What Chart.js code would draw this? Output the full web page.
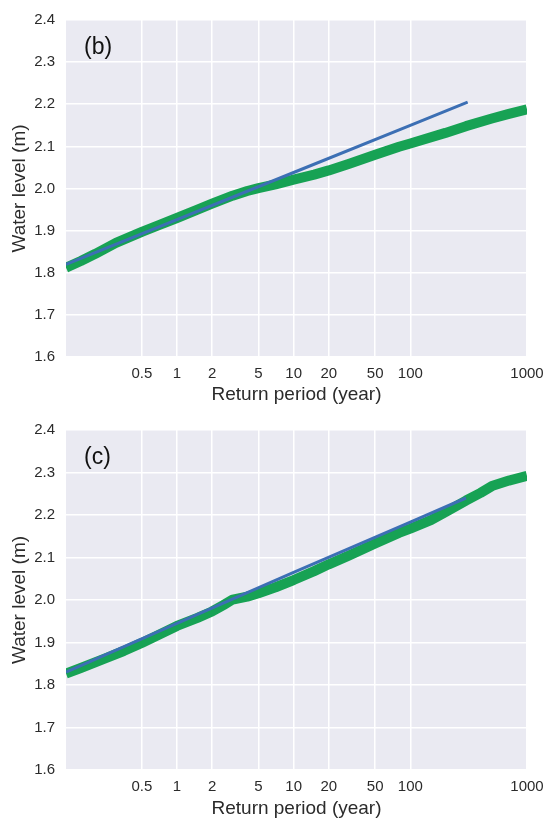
<!DOCTYPE html>
<html>
<head>
<meta charset="utf-8">
<script src="https://cdn.jsdelivr.net/npm/chart.js@4/dist/chart.umd.min.js"></script>
<style>
  body { margin: 0; background: #fff; }
  canvas { display: block; }
</style>
</head>
<body>
<canvas id="chartB" width="545" height="410"></canvas>
<canvas id="chartC" width="545" height="411"></canvas>
<script>
// tick values shown on the axes
const xTicks = [0.5, 1, 2, 5, 10, 20, 50, 100, 1000];
const yTicks = [1.6, 1.7, 1.8, 1.9, 2.0, 2.1, 2.2, 2.3, 2.4];

// panel (b): empirical (green) and fitted (blue)
const empB_T = [0.112, 0.15, 0.2, 0.3, 0.5, 0.7, 1, 1.5, 2, 3, 4, 5, 7, 10, 15, 20, 30, 50, 80, 100, 200, 300, 500, 700, 1000];
const empB_level = [1.812, 1.828, 1.845, 1.871, 1.897, 1.913, 1.930, 1.950, 1.964, 1.983, 1.994, 2.001, 2.010, 2.021, 2.033, 2.043, 2.059, 2.080, 2.099, 2.107, 2.132, 2.148, 2.166, 2.177, 2.188];
const fitB_T = [0.112, 1, 10, 100, 310];
const fitB_level = [1.820, 1.926, 2.038, 2.150, 2.205];

// panel (c)
const empC_T = [0.112, 0.15, 0.24, 0.35, 0.5, 0.7, 1, 1.5, 2, 2.5, 3, 4, 5, 7, 10, 15, 20, 30, 50, 80, 100, 150, 200, 300, 400, 500, 700, 1000];
const empC_level = [1.827, 1.840, 1.862, 1.880, 1.899, 1.918, 1.939, 1.958, 1.973, 1.988, 2.001, 2.008, 2.016, 2.030, 2.047, 2.068, 2.084, 2.105, 2.133, 2.158, 2.168, 2.188, 2.207, 2.234, 2.252, 2.268, 2.281, 2.292];
const fitC_T = [0.112, 1, 10, 100, 300];
const fitC_level = [1.830, 1.945, 2.065, 2.183, 2.240];

const FONT = "'Liberation Sans', Arial, sans-serif";
const TEXT = '#2b2b2b';

const toPoints = (ts, ys) => ts.map((t, i) => ({ x: t, y: ys[i] }));

// grey plot background + panel letter
const panelPlugin = {
  id: 'panel',
  beforeDraw(chart) {
    const a = chart.chartArea, ctx = chart.ctx;
    ctx.save();
    ctx.fillStyle = '#eaeaf2';
    ctx.fillRect(a.left, a.top, a.right - a.left, a.bottom - a.top);
    ctx.restore();
  },
  afterDatasetsDraw(chart) {
    const a = chart.chartArea, ctx = chart.ctx;
    ctx.save();
    ctx.fillStyle = '#111';
    ctx.font = '23px ' + FONT;
    ctx.textBaseline = 'middle';
    ctx.fillText(chart.options.plugins.panel.label, a.left + 18, a.top + 28);
    ctx.restore();
  }
};

function makeChart(id, label, empT, empL, fitT, fitL, padTop, xHeight, titlePad) {
  return new Chart(document.getElementById(id), {
    type: 'line',
    data: {
      datasets: [
        {
          data: toPoints(fitT, fitL),
          borderColor: '#3c6fb4',
          borderWidth: 3,
          pointRadius: 0,
          order: 0
        },
        {
          data: toPoints(empT, empL),
          borderColor: '#17a254',
          borderWidth: 10,
          pointRadius: 0,
          borderJoinStyle: 'round',
          order: 1
        }
      ]
    },
    options: {
      responsive: false,
      animation: false,
      layout: { padding: { top: padTop, right: 18, left: 0, bottom: 0 } },
      plugins: {
        legend: { display: false },
        tooltip: { enabled: false },
        panel: { label: label }
      },
      scales: {
        x: {
          type: 'logarithmic',
          min: 0.112,
          max: 1000,
          afterBuildTicks: (scale) => { scale.ticks = xTicks.map(v => ({ value: v })); },
          afterFit: (scale) => {
            scale.height = xHeight;
            scale.paddingLeft = 0;
            scale.paddingRight = 0;
          },
          grid: { color: '#ffffff', lineWidth: 1.5, drawTicks: false },
          border: { display: false },
          ticks: {
            color: TEXT,
            font: { family: FONT, size: 15 },
            padding: 8,
            maxRotation: 0,
            autoSkip: false,
            callback: (v) => String(v)
          },
          title: {
            display: true,
            text: 'Return period (year)',
            color: TEXT,
            font: { family: FONT, size: 19 },
            padding: { top: 0, bottom: titlePad }
          }
        },
        y: {
          min: 1.6,
          max: 2.4,
          afterBuildTicks: (scale) => { scale.ticks = yTicks.map(v => ({ value: v })); },
          afterFit: (scale) => { scale.width = 66; },
          grid: { color: '#ffffff', lineWidth: 1.5, drawTicks: false },
          border: { display: false },
          ticks: {
            color: TEXT,
            font: { family: FONT, size: 15 },
            padding: 11,
            callback: (v) => v.toFixed(1)
          },
          title: {
            display: true,
            text: 'Water level (m)',
            color: TEXT,
            font: { family: FONT, size: 19 },
            padding: { top: 8, bottom: 0 }
          }
        }
      }
    },
    plugins: [panelPlugin]
  });
}

makeChart('chartB', '(b)', empB_T, empB_level, fitB_T, fitB_level, 15, 53, 4);
makeChart('chartC', '(c)', empC_T, empC_level, fitC_T, fitC_level, 20, 51, 1);
</script>
</body>
</html>
